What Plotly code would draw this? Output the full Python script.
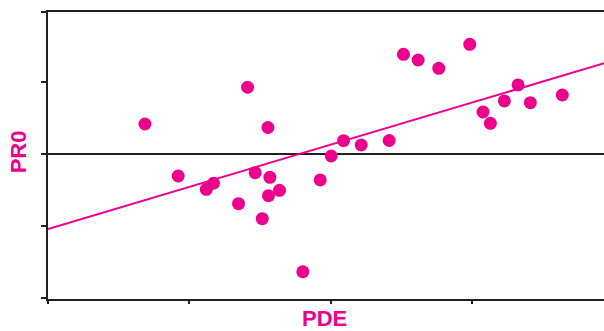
import plotly.graph_objects as go

# Data
pde = [0.686, 0.921, 1.120, 1.171, 1.348, 1.412, 1.466, 1.516, 1.556, 1.570,
       1.560, 1.638, 1.803, 1.926, 2.004, 2.091, 2.216, 2.414, 2.515, 2.619,
       2.765, 2.984, 3.078, 3.130, 3.229, 3.326, 3.413, 3.639]
pr0 = [0.419, -0.306, -0.491, -0.407, -0.692, 0.931, -0.260, -0.901, 0.370, -0.324,
       -0.580, -0.505, -1.640, -0.361, -0.027, 0.186, 0.126, 0.189, 1.390, 1.311,
       1.195, 1.530, 0.586, 0.429, 0.740, 0.963, 0.716, 0.823]
trend_x = [0.0, 4.0]
trend_y = [-1.044, 1.304]
x_ticks = [0, 1, 2, 3, 4]
y_ticks = [-2, -1, 0, 1, 1.98]

PINK = "#ec008c"
DARK = "#231f20"

fig = go.Figure()
fig.add_trace(go.Scatter(x=trend_x, y=trend_y, mode="lines",
                         line=dict(color=PINK, width=2), hoverinfo="skip"))
fig.add_trace(go.Scatter(x=pde, y=pr0, mode="markers",
                         marker=dict(color=PINK, size=13, line=dict(width=0))))

fig.update_layout(
    width=604, height=331,
    margin=dict(l=48, r=0, t=12, b=32),
    paper_bgcolor="white", plot_bgcolor="white",
    showlegend=False,
    xaxis=dict(range=[0, 3.934], showgrid=False, zeroline=False,
               showline=True, linecolor=DARK, linewidth=2, mirror=True,
               ticks="outside", ticklen=3, tickwidth=1.5, tickcolor=DARK,
               tickvals=x_ticks, showticklabels=False),
    yaxis=dict(range=[-2.02, 1.98], showgrid=False, zeroline=True,
               zerolinecolor=DARK, zerolinewidth=2,
               showline=True, linecolor=DARK, linewidth=2,
               ticks="outside", ticklen=5, tickwidth=2, tickcolor=DARK,
               tickvals=y_ticks, showticklabels=False),
    font=dict(family="Liberation Sans, Arial, sans-serif"),
    annotations=[
        dict(text="<b>PDE</b>", xref="paper", yref="paper", x=0.498, y=-0.067,
             xanchor="center", yanchor="middle", showarrow=False,
             font=dict(size=22, color=PINK)),
        dict(text="<b>PR0</b>", xref="paper", yref="paper", x=-0.0535, y=0.512,
             xanchor="center", yanchor="middle", showarrow=False, textangle=-90,
             font=dict(size=22, color=PINK)),
    ],
)

fig.write_html("out.html")
